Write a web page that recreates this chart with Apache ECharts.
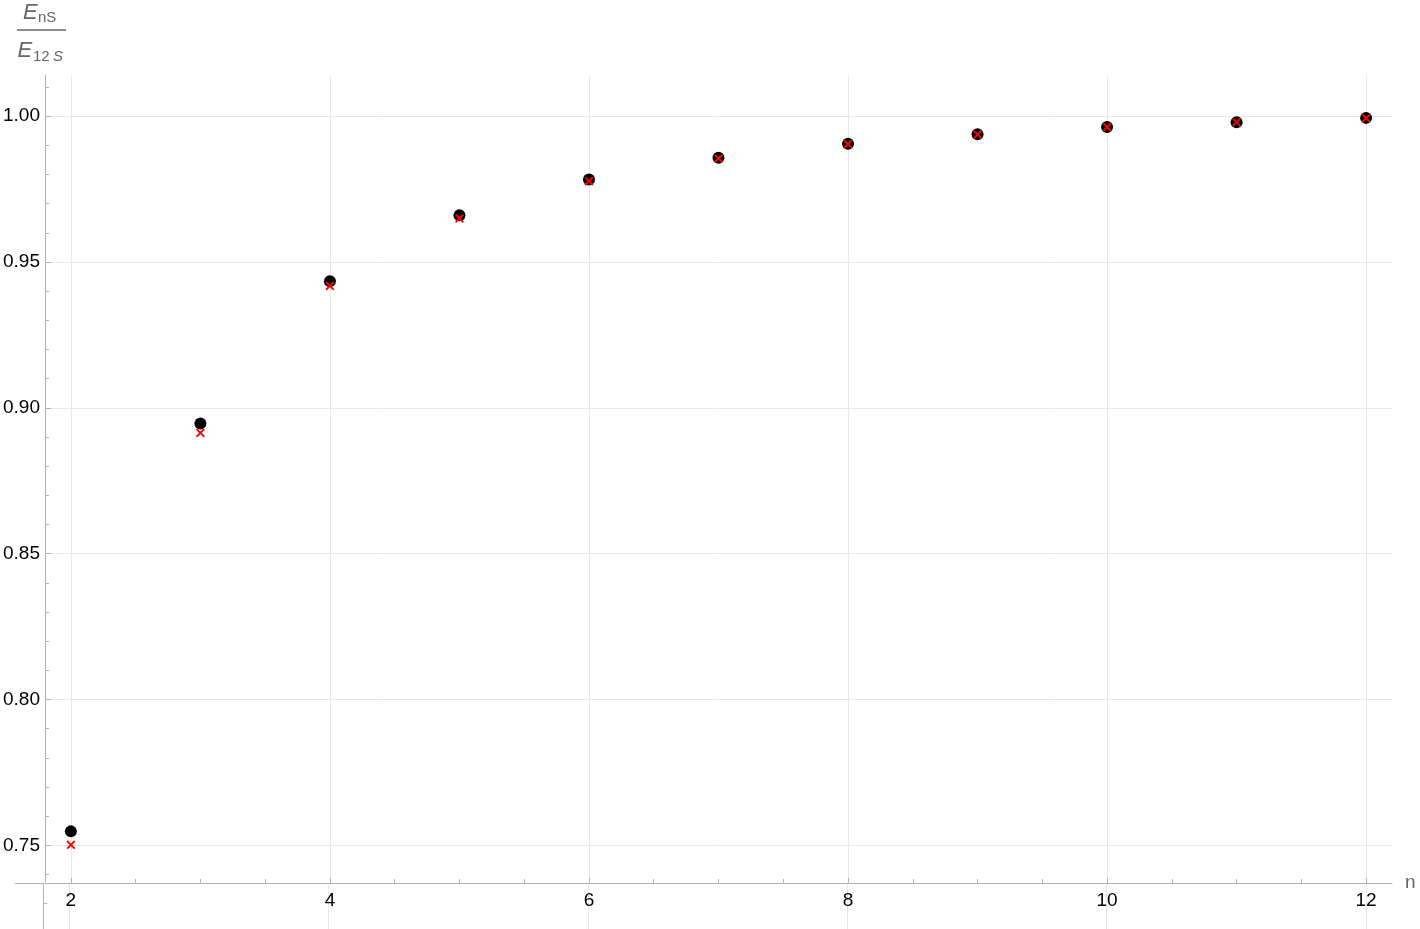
<!doctype html>
<html>
<head>
<meta charset="utf-8">
<title>EnS / E12S</title>
<style>html,body{margin:0;padding:0;background:#fff;}</style>
</head>
<body>
<script src="https://cdn.jsdelivr.net/npm/echarts@6/dist/echarts.min.js"></script>
<div id="chart" style="width:1420px;height:929px;"></div>
<script>
// values
const nValues = [2, 3, 4, 5, 6, 7, 8, 9, 10, 11, 12];
const ratioDots = [0.7548, 0.8946, 0.9434, 0.9660, 0.9783, 0.9857, 0.9905, 0.9938, 0.9963, 0.9979, 0.9994];
const ratioCrosses = [0.7502, 0.8914, 0.9418, 0.9649, 0.9777, 0.9855, 0.9904, 0.9937, 0.9962, 0.9979, 0.9993];

const xTicks = [2, 4, 6, 8, 10, 12];
const yTicks = [0.75, 0.80, 0.85, 0.90, 0.95, 1.00];
const xMinor = [2.5, 3, 3.5, 4.5, 5, 5.5, 6.5, 7, 7.5, 8.5, 9, 9.5, 10.5, 11, 11.5];
const yMinor = [];
for (let v = 74; v <= 101; v++) {
	if (v % 5 !== 0) yMinor.push(v / 100);
}

const xMin = 1.8, xMax = 12.2;
const yMin = 0.7371, yMax = 1.0141;
const yExtMin = 0.7213;

const font = '"Liberation Sans", Arial, sans-serif';
const axisGrey = '#b3b3b3';
const gridGrey = '#e8e8e8';
const titleGrey = '#666666';

const dotData = nValues.map((n, i) => [n, ratioDots[i]]);
const crossData = nValues.map((n, i) => [n, ratioCrosses[i]]);

const crossPath = 'path://M0,1.5L1.5,0L5,3.5L8.5,0L10,1.5L6.5,5L10,8.5L8.5,10L5,6.5L1.5,10L0,8.5L3.5,5Z';

let chart = echarts.init(document.getElementById('chart'), null, {width: 1420, height: 929});

let opts = {
	animation: false,
	backgroundColor: '#fff',
	grid: [
		{left: 43, right: 28, top: 75, bottom: 46},
		{left: 43, right: 28, top: 883, bottom: 0}
	],
	xAxis: [
		{
			type: 'value', gridIndex: 0, position: 'bottom',
			min: xMin, max: xMax,
			axisLine: {show: true, lineStyle: {color: axisGrey, width: 1}},
			axisTick: {show: true, inside: true, length: 5, customValues: xTicks, lineStyle: {color: axisGrey}},
			axisLabel: {show: true, customValues: xTicks, margin: 8, color: '#000', fontSize: 19, fontFamily: font},
			splitLine: {show: true, lineStyle: {color: gridGrey, width: 1}},
			name: 'n', nameLocation: 'end', nameGap: 13,
			nameTextStyle: {color: titleGrey, fontSize: 19, fontFamily: font, padding: [8, 0, 0, 0]}
		},
		{
			type: 'value', gridIndex: 0, position: 'bottom',
			min: xMin, max: xMax,
			axisLine: {show: false},
			axisTick: {show: true, inside: true, length: 4, customValues: xMinor, lineStyle: {color: axisGrey}},
			axisLabel: {show: false},
			splitLine: {show: false}
		},
		{
			type: 'value', gridIndex: 1, position: 'bottom',
			min: xMin, max: xMax,
			axisLine: {show: false},
			axisTick: {show: false, customValues: xTicks},
			axisLabel: {show: false},
			splitLine: {show: true, lineStyle: {color: gridGrey, width: 1}}
		}
	],
	yAxis: [
		{
			type: 'value', gridIndex: 0, position: 'left',
			min: yMin, max: yMax,
			axisLine: {show: true, lineStyle: {color: axisGrey, width: 1}},
			axisTick: {show: true, inside: true, length: 6, customValues: yTicks, lineStyle: {color: axisGrey}},
			axisLabel: {
				show: true, customValues: yTicks, margin: 5, color: '#000', fontSize: 19, fontFamily: font,
				formatter: v => v.toFixed(2)
			},
			splitLine: {show: true, lineStyle: {color: gridGrey, width: 1}}
		},
		{
			type: 'value', gridIndex: 0, position: 'left',
			min: yMin, max: yMax,
			axisLine: {show: false},
			axisTick: {show: true, inside: true, length: 4, customValues: yMinor, lineStyle: {color: axisGrey}},
			axisLabel: {show: false},
			splitLine: {show: false}
		},
		{
			type: 'value', gridIndex: 1, position: 'left',
			min: yExtMin, max: yMin,
			axisLine: {show: true, lineStyle: {color: axisGrey, width: 1}},
			axisTick: {show: true, inside: true, length: 4, customValues: [0.73], lineStyle: {color: axisGrey}},
			axisLabel: {show: false},
			splitLine: {show: false}
		}
	],
	graphic: [
		// axis line running left of the vertical axis
		{type: 'line', shape: {x1: 15, y1: 883.5, x2: 43, y2: 883.5}, style: {stroke: axisGrey, lineWidth: 1}, z: 10},
		// fraction E_nS / E_12 S
		{type: 'text', x: 23, y: 12.5, style: {text: 'E', font: 'italic 22px ' + font, fill: titleGrey, verticalAlign: 'middle'}},
		{type: 'text', x: 38, y: 18, style: {text: 'nS', font: '15px ' + font, fill: titleGrey, verticalAlign: 'middle'}},
		{type: 'line', shape: {x1: 17, y1: 30, x2: 66, y2: 30}, style: {stroke: titleGrey, lineWidth: 1.3}},
		{type: 'text', x: 17.5, y: 50.5, style: {text: 'E', font: 'italic 22px ' + font, fill: titleGrey, verticalAlign: 'middle'}},
		{type: 'text', x: 33, y: 56.5, style: {text: '12', font: '15px ' + font, fill: titleGrey, verticalAlign: 'middle'}},
		{type: 'text', x: 53, y: 56.5, style: {text: 'S', font: 'italic 15px ' + font, fill: titleGrey, verticalAlign: 'middle'}}
	],
	series: [
		{
			name: 'dots', type: 'scatter', xAxisIndex: 0, yAxisIndex: 0,
			symbol: 'circle', symbolSize: 12, z: 3,
			itemStyle: {color: '#000', opacity: 1},
			data: dotData
		},
		{
			name: 'crosses', type: 'scatter', xAxisIndex: 0, yAxisIndex: 0,
			symbol: crossPath, symbolSize: 9, z: 4,
			itemStyle: {color: '#ff0000', opacity: 1},
			data: crossData
		}
	]
};

chart.setOption(opts);
</script>
</body>
</html>
